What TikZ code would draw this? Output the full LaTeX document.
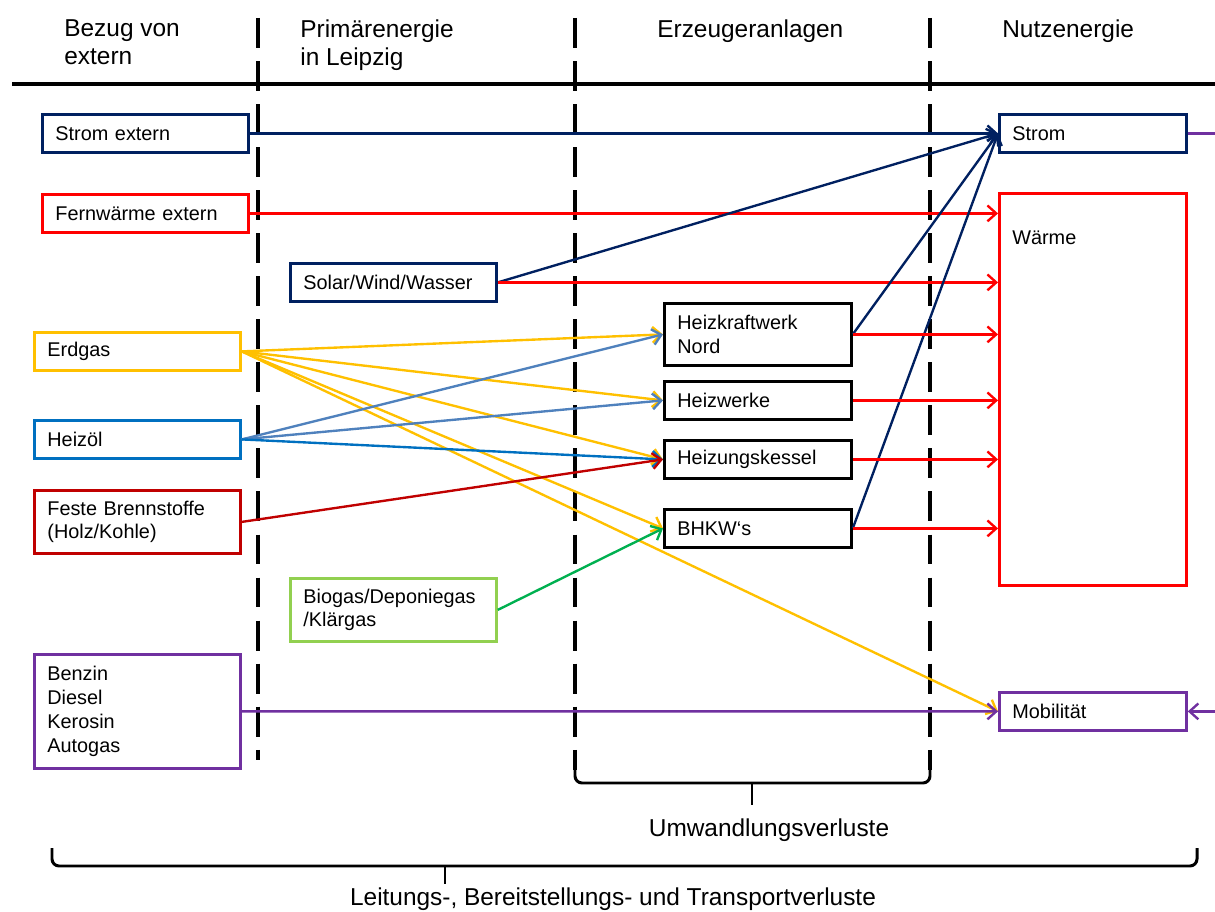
\documentclass[tikz,border=0pt]{standalone}
\usepackage{fontspec}
\setmainfont{Liberation Sans}
\usetikzlibrary{arrows.meta}
\definecolor{navy}{RGB}{0,32,96}
\definecolor{rot}{RGB}{255,0,0}
\definecolor{gelb}{RGB}{255,192,0}
\definecolor{oelblau}{RGB}{0,112,192}
\definecolor{stahl}{RGB}{79,129,189}
\definecolor{dunkelrot}{RGB}{192,0,0}
\definecolor{lila}{RGB}{112,48,160}
\definecolor{hellgruen}{RGB}{146,208,80}
\definecolor{gruen}{RGB}{0,176,80}

\begin{document}
\begin{tikzpicture}[x=0.02cm,y=-0.02cm,>={Straight Barb[length=5pt,width=9pt]}]
  \tikzstyle{box}=[draw,rectangle,line width=1.6pt,anchor=north west,align=left,inner xsep=0.26cm,inner ysep=0pt,font=\fontsize{11.3}{13.6}\selectfont]
  \tikzstyle{wide}=[text width=3.6cm,minimum height=0.76cm]
  \tikzstyle{narrow}=[text width=3.22cm,minimum height=0.76cm]
  \tikzstyle{head}=[anchor=north west,align=left,inner sep=0pt,font=\fontsize{13.9}{16.4}\selectfont]
  \tikzstyle{flow}=[->,line width=1.35pt]
  \tikzstyle{trenn}=[line width=2.4pt,dash pattern=on 17pt off 7.5pt]
  \tikzstyle{klammer}=[line width=1.7pt,rounded corners=4pt]
  \useasboundingbox (0,0) rectangle (1215,912);

  \node[head] (h1) at (64,19) {Bezug von\\extern};
  \node[head] (h2) at (300,19) {Primärenergie\\in Leipzig};
  \node[head] (h3) at (657,19) {Erzeugeranlagen};
  \node[head] (h4) at (1002,19) {Nutzenergie};
  \draw[line width=2.3pt] (12,84) -- (1215,84);
  \draw[trenn] (258,18) -- (258,760);
  \draw[trenn] (575,18) -- (575,770);
  \draw[trenn] (930,18) -- (930,770);

  \node[box,wide,draw=navy] (stromext) at (41,113) {Strom extern};
  \node[box,wide,draw=rot] (fwext) at (41,193) {Fernwärme extern};
  \node[box,wide,draw=gelb] (erdgas) at (33,331) {Erdgas};
  \node[box,wide,draw=oelblau] (heizoel) at (33,419) {Heizöl};
  \node[box,wide,draw=dunkelrot,minimum height=1.26cm] (feste) at (33,489) {Feste Brennstoffe\\(Holz/Kohle)};
  \node[box,wide,draw=lila,minimum height=2.28cm] (benzin) at (33,653) {Benzin\\Diesel\\Kerosin\\Autogas};
  \node[box,wide,draw=navy] (solar) at (289,262) {Solar/Wind/Wasser};
  \node[box,wide,draw=hellgruen,minimum height=1.26cm] (biogas) at (289,577) {Biogas/Deponiegas\\/Klärgas};
  \node[box,narrow,minimum height=1.24cm] (hkw) at (663,302) {Heizkraftwerk\\Nord};
  \node[box,narrow] (heizwerke) at (663,380) {Heizwerke};
  \node[box,narrow] (kessel) at (663,439) {Heizungskessel};
  \node[box,narrow] (bhkw) at (663,508) {BHKW‘s};
  \node[box,narrow,draw=navy] (strom) at (998,113) {Strom};
  \node[box,narrow,draw=rot,minimum height=7.84cm] (waerme) at (998,192) {};
  \node[anchor=north west,inner sep=0pt,font=\fontsize{11.3}{13.6}\selectfont] (waermetext) at ([xshift=0.28cm,yshift=-0.78cm]waerme.north west) {Wärme};
  \node[box,narrow,draw=lila] (mobil) at (998,691) {Mobilität};
  \coordinate (rand) at (1215,0);

  \draw[flow,navy] (stromext.east) -- (strom.west);
  \draw[flow,rot] (fwext.east) -- (fwext.east -| waerme.west);
  \draw[flow,navy] (solar.east) -- (strom.west);
  \draw[flow,rot] (solar.east) -- (solar.east -| waerme.west);
  \foreach \z in {hkw,heizwerke,kessel,bhkw,mobil}
    \draw[flow,gelb] (erdgas.east) -- (\z.west);
  \draw[flow,stahl] (heizoel.east) -- (hkw.west);
  \draw[flow,stahl] (heizoel.east) -- (heizwerke.west);
  \draw[flow,oelblau] (heizoel.east) -- (kessel.west);
  \draw[flow,dunkelrot] (feste.east) -- (kessel.west);
  \draw[flow,gruen] (biogas.east) -- (bhkw.west);
  \draw[flow,navy] (hkw.east) -- (strom.west);
  \draw[flow,navy] (bhkw.east) -- (strom.west);
  \foreach \z in {hkw,heizwerke,kessel,bhkw}
    \draw[flow,rot] (\z.east) -- (\z.east -| waerme.west);
  \draw[flow,lila] (benzin.east) -- (mobil.west);
  \draw[line width=1.35pt,lila] (strom.east) -- (strom.east -| rand);
  \draw[flow,lila] (mobil.east -| rand) -- (mobil.east);

  \draw[klammer] (575,768) -- (575,783) -- (930,783) -- (930,768);
  \draw[klammer] (752,783) -- (752,805);
  \node[head,anchor=base] (umw) at (769,836) {Umwandlungsverluste};
  \draw[klammer] (52,848) -- (52,866) -- (1197,866) -- (1197,848);
  \draw[klammer] (445,866) -- (445,884);
  \node[head,anchor=base] (verl) at (613,905) {Leitungs-, Bereitstellungs- und Transportverluste};
\end{tikzpicture}
\end{document}
